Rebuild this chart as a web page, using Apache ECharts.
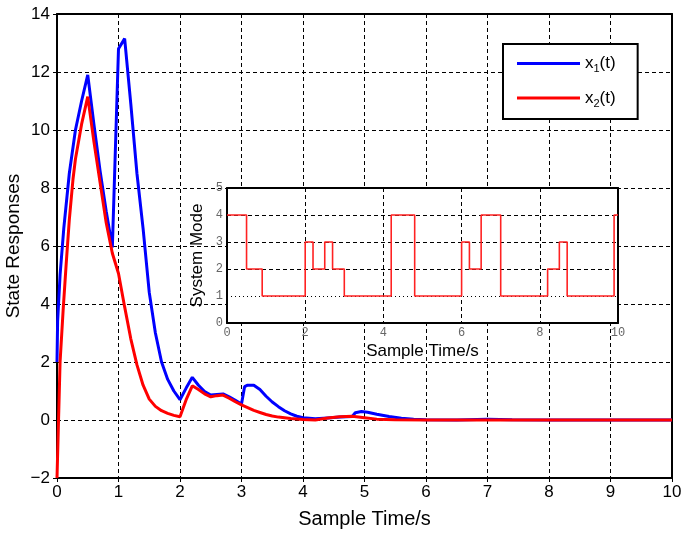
<!DOCTYPE html>
<html>
<head>
<meta charset="utf-8">
<script src="https://cdn.jsdelivr.net/npm/echarts@6/dist/echarts.min.js"></script>
<style>html,body{margin:0;padding:0;background:#fff}#c{width:683px;height:533px}</style>
</head>
<body>
<div id="c"></div>
<script>
// main plot data
var t1 = [0,0.01,0.05,0.11,0.2,0.3,0.4,0.5,0.6,0.7,0.8,0.9,1.0,1.1,1.2,1.3,1.4,1.5,1.6,1.7,1.8,1.9,2.0,2.1,2.2,2.3,2.4,2.5,2.6,2.7,2.8,2.9,3.0,3.05,3.1,3.2,3.3,3.4,3.5,3.6,3.7,3.8,3.9,4.0,4.2,4.4,4.6,4.8,4.85,4.95,5.05,5.2,5.4,5.6,5.8,6.0,6.5,7.0,7.4,8.0,10];
var x1 = [2.0,3.4,5.0,6.6,8.5,10.0,11.0,11.9,10.2,8.6,7.2,5.95,12.8,13.15,10.9,8.5,6.6,4.4,3.0,2.0,1.4,1.0,0.7,1.1,1.47,1.2,0.98,0.86,0.88,0.9,0.8,0.68,0.55,1.15,1.2,1.2,1.05,0.82,0.62,0.46,0.32,0.21,0.13,0.08,0.04,0.07,0.1,0.12,0.25,0.29,0.27,0.2,0.12,0.06,0.03,0.01,0.0,0.03,0.01,0.0,0.0];
var t2 = [0,0.05,0.1,0.15,0.2,0.26,0.3,0.4,0.5,0.6,0.7,0.8,0.9,1.0,1.1,1.2,1.3,1.4,1.5,1.6,1.7,1.8,1.9,2.0,2.1,2.2,2.3,2.4,2.5,2.6,2.7,2.8,2.9,3.0,3.1,3.2,3.3,3.4,3.5,3.6,3.8,4.0,4.2,4.4,4.6,4.8,5.0,5.2,5.5,6.0,10];
var x2 = [-2,2.0,3.8,5.4,6.9,8.3,9.0,10.2,11.15,9.6,8.2,6.8,5.75,5.05,3.9,2.8,1.9,1.2,0.72,0.47,0.32,0.23,0.16,0.11,0.7,1.18,1.05,0.9,0.8,0.84,0.86,0.75,0.63,0.52,0.43,0.33,0.26,0.19,0.14,0.1,0.05,0.02,0.0,0.07,0.11,0.13,0.08,0.03,0.01,0.0,0.0];
// inset data (system mode)
var modeT = [0,0.5,0.9,2.0,2.2,2.5,2.7,3.0,4.2,4.8,6.0,6.2,6.5,7.0,8.2,8.5,8.7,9.9,10];
var modeV = [4,2,1,3,2,3,2,1,4,1,3,2,4,1,2,3,1,4,4];
// tick settings
var mainXTicks = {min:0, max:10, interval:1};
var mainYTicks = {min:-2, max:14, interval:2};
var insetXTicks = {min:0, max:10, interval:2};
var insetYTicks = {min:0, max:5, interval:1};
var insetDashedY = [2,3,4];
var insetDottedY = [1];

function pairs(t, v){ return t.map(function(x,i){ return [x, v[i]]; }); }

var font = 'Liberation Sans, Arial, sans-serif';
var mono = 'Liberation Mono, DejaVu Sans Mono, monospace';
var chart = echarts.init(document.getElementById('c'), null, {renderer:'canvas'});
var dash = {color:'#000', width:1, type:[4,3]};

var option = {
  animation:false,
  backgroundColor:'#fff',
  grid:[
    {left:57, right:11, top:14, bottom:55, z:0, outerBoundsMode:'none', containLabel:false},
    {left:227, right:65, top:188, bottom:210, show:true, backgroundColor:'#fff', borderWidth:0, z:5, outerBoundsMode:'none', containLabel:false}
  ],
  legend:{
    data:[{name:'x1', icon:'rect'},{name:'x2', icon:'rect'}],
    orient:'vertical', left:503, top:44,
    backgroundColor:'#fff', borderColor:'#000', borderWidth:2,
    padding:[11,22,10,14], itemGap:15, itemWidth:63, itemHeight:3,
    z:20,
    textStyle:{
      color:'#000', fontFamily:font, fontSize:17,
      rich:{
        a:{fontSize:17, fontFamily:font, color:'#000', lineHeight:22},
        s:{fontSize:11, fontFamily:font, color:'#000', lineHeight:10, verticalAlign:'bottom'}
      }
    },
    formatter:function(n){ return '{a|x}{s|' + n.slice(1) + '}{a|(t)}'; }
  },
  xAxis:[
    {type:'value', gridIndex:0, min:mainXTicks.min, max:mainXTicks.max, interval:mainXTicks.interval, z:1,
     name:'Sample Time/s', nameLocation:'middle', nameGap:31, nameMoveOverlap:false,
     nameTextStyle:{fontFamily:font, fontSize:20, color:'#000'},
     axisLine:{show:true, onZero:false, lineStyle:{color:'#000', width:2}},
     axisTick:{show:true, inside:false, length:4, lineStyle:{color:'#000'}},
     axisLabel:{fontFamily:font, fontSize:17, color:'#000', margin:6},
     splitLine:{show:true, lineStyle:dash}},
    {type:'value', gridIndex:0, position:'top', min:mainXTicks.min, max:mainXTicks.max, interval:mainXTicks.interval, z:1,
     axisLine:{show:true, onZero:false, lineStyle:{color:'#000', width:2}},
     axisTick:{show:false}, axisLabel:{show:false}, splitLine:{show:false}},
    {type:'value', gridIndex:1, min:insetXTicks.min, max:insetXTicks.max, interval:insetXTicks.interval, z:6,
     name:'Sample Time/s', nameLocation:'middle', nameGap:20, nameMoveOverlap:false,
     nameTextStyle:{fontFamily:font, fontSize:17, color:'#000'},
     axisLine:{show:true, onZero:false, lineStyle:{color:'#000', width:2}},
     axisTick:{show:false},
     axisLabel:{fontFamily:mono, fontSize:12, color:'#666', margin:4},
     splitLine:{show:true, lineStyle:dash}},
    {type:'value', gridIndex:1, position:'top', min:insetXTicks.min, max:insetXTicks.max, interval:insetXTicks.interval, z:6,
     axisLine:{show:true, onZero:false, lineStyle:{color:'#000', width:2}},
     axisTick:{show:false}, axisLabel:{show:false}, splitLine:{show:false}}
  ],
  yAxis:[
    {type:'value', gridIndex:0, min:mainYTicks.min, max:mainYTicks.max, interval:mainYTicks.interval, z:1,
     name:'State Responses', nameLocation:'middle', nameGap:34, nameMoveOverlap:false,
     nameTextStyle:{fontFamily:font, fontSize:19, color:'#000'},
     axisLine:{show:true, onZero:false, lineStyle:{color:'#000', width:2}},
     axisTick:{show:true, inside:false, length:4, lineStyle:{color:'#000'}},
     axisLabel:{fontFamily:font, fontSize:17, color:'#000', margin:7,
       formatter:function(v){ return String(v).replace('-', '\u2212'); }},
     splitLine:{show:true, lineStyle:dash}},
    {type:'value', gridIndex:0, position:'right', min:mainYTicks.min, max:mainYTicks.max, interval:mainYTicks.interval, z:1,
     axisLine:{show:true, onZero:false, lineStyle:{color:'#000', width:2}},
     axisTick:{show:false}, axisLabel:{show:false}, splitLine:{show:false}},
    {type:'value', gridIndex:1, min:insetYTicks.min, max:insetYTicks.max, interval:insetYTicks.interval, z:6,
     name:'System Mode', nameLocation:'middle', nameGap:21, nameMoveOverlap:false,
     nameTextStyle:{fontFamily:font, fontSize:17, color:'#000'},
     axisLine:{show:true, onZero:false, lineStyle:{color:'#000', width:2}},
     axisTick:{show:false},
     axisLabel:{fontFamily:mono, fontSize:12, color:'#666', margin:4},
     splitLine:{show:false}},
    {type:'value', gridIndex:1, position:'right', min:insetYTicks.min, max:insetYTicks.max, interval:insetYTicks.interval, z:6,
     axisLine:{show:true, onZero:false, lineStyle:{color:'#000', width:2}},
     axisTick:{show:false}, axisLabel:{show:false}, splitLine:{show:false}}
  ],
  series:[
    {name:'x1', type:'line', xAxisIndex:0, yAxisIndex:0, data:pairs(t1,x1), showSymbol:false, symbol:'none', z:3,
     lineStyle:{color:'#0000ff', width:3}, itemStyle:{color:'#0000ff'}},
    {name:'x2', type:'line', xAxisIndex:0, yAxisIndex:0, data:pairs(t2,x2), showSymbol:false, symbol:'none', z:3,
     lineStyle:{color:'#ff0000', width:3}, itemStyle:{color:'#ff0000'}},
    {name:'gridlines', type:'line', xAxisIndex:2, yAxisIndex:2, data:[], z:6, silent:true,
     markLine:{silent:true, symbol:'none', label:{show:false}, animation:false,
       data: insetDashedY.map(function(v){ return {yAxis:v, lineStyle:dash}; })
         .concat(insetDottedY.map(function(v){ return {yAxis:v, lineStyle:{color:'#000', width:1, type:[1,3]}}; }))}},
    {name:'mode', type:'line', xAxisIndex:2, yAxisIndex:2, data:pairs(modeT,modeV), step:'end', showSymbol:false, symbol:'none', z:8,
     lineStyle:{color:'#ff2222', width:1.6}}
  ]
};
chart.setOption(option);
</script>
</body>
</html>
